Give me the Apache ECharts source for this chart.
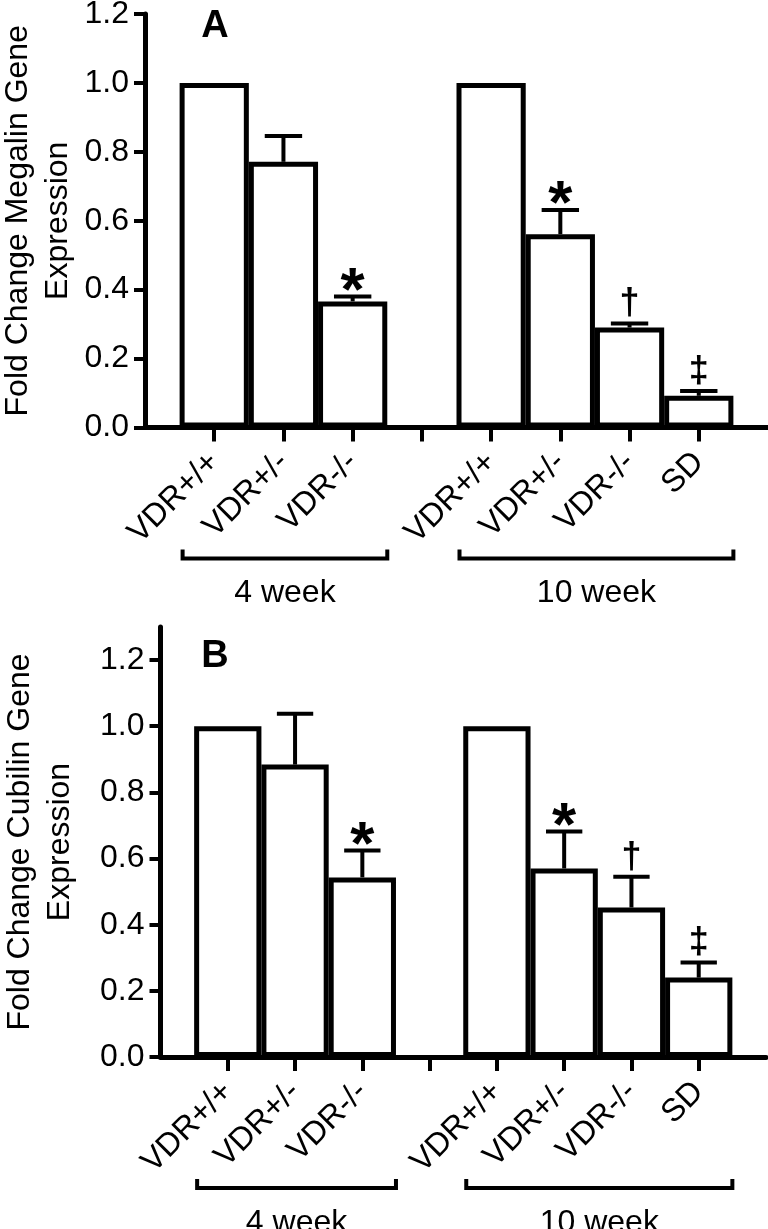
<!DOCTYPE html>
<html>
<head>
<meta charset="utf-8">
<script src="https://cdn.jsdelivr.net/npm/echarts@6.0.0/dist/echarts.min.js"></script>
<style>
  html, body { margin: 0; padding: 0; background: #fff; }
  #chart { width: 768px; height: 1229px; }
</style>
</head>
<body>
<div id="chart"></div>
<script>
// ------------------------------------------------------------
// Data
// ------------------------------------------------------------

// blank slots pad both ends and split the two ages
const categories = ['', 'VDR+/+', 'VDR+/-', 'VDR-/-', '', 'VDR+/+', 'VDR+/-', 'VDR-/-', 'SD', ''];
const yTicks = [0, 0.2, 0.4, 0.6, 0.8, 1.0, 1.2];

// panel A: megalin, mean and top of the error bar
const megalinMean = ['-', 1.0, 0.771, 0.366, '-', 1.0, 0.561, 0.290, 0.092, '-'];
const megalinUpper = ['-', '-', 0.846, 0.380, '-', '-', 0.631, 0.302, 0.106, '-'];

// panel B: cubilin
const cubilinMean = ['-', 1.0, 0.884, 0.543, '-', 1.0, 0.570, 0.452, 0.240, '-'];
const cubilinUpper = ['-', '-', 1.038, 0.624, '-', '-', 0.682, 0.545, 0.286, '-'];

const marks = ['', '', '', '*', '', '', '*', '\u2020', '\u2021', ''];

// age brackets: first and last category index
const groupRanges = [[1, 3], [5, 8]];
const groupLabels = ['4 week', '10 week'];

// ------------------------------------------------------------
// Helpers
// ------------------------------------------------------------

const FONT = 'Liberation Sans';

function errorItems(mean, upper) {
  const items = [];
  upper.forEach((u, i) => {
    if (typeof u === 'number') items.push([i, mean[i], u]);
  });
  return items;
}

function makeErrorRenderer(items) {
  return function (params, api) {
    const item = items[params.dataIndex];
    const base = api.coord([item[0], item[1]]);
    const top = api.coord([item[0], item[2]]);
    const half = api.size([1, 0])[0] * 0.27;
    const mark = marks[item[0]];
    const star = mark === '*';
    return {
      type: 'group',
      children: [
        {
          type: 'line',
          shape: { x1: base[0], y1: base[1], x2: top[0], y2: top[1] },
          style: { stroke: '#000', lineWidth: 4 },
        },
        {
          type: 'line',
          shape: { x1: top[0] - half, y1: top[1], x2: top[0] + half, y2: top[1] },
          style: { stroke: '#000', lineWidth: 4 },
        },
        {
          type: 'text',
          x: top[0],
          y: star ? top[1] - 4 : top[1] - 19,
          style: {
            text: mark,
            fill: '#000',
            font: star ? 'bold 62px ' + FONT : 'bold 36px ' + FONT,
            align: 'center',
            verticalAlign: 'middle',
          },
        },
      ],
    };
  };
}

function renderBracket(params, api) {
  const range = groupRanges[params.dataIndex];
  const band = api.size([1, 0])[0];
  const a = api.coord([range[0], 0]);
  const b = api.coord([range[1], 0]);
  const x0 = a[0] - band / 2 + 3;
  const x1 = b[0] + band / 2;
  const y = a[1] + 131;
  return {
    type: 'group',
    children: [
      {
        type: 'polyline',
        shape: { points: [[x0, y - 9], [x0, y], [x1, y], [x1, y - 9]] },
        style: { stroke: '#000', lineWidth: 4, fill: null },
      },
      {
        type: 'text',
        x: (x0 + x1) / 2,
        y: y + 35,
        style: {
          text: groupLabels[params.dataIndex],
          fill: '#000',
          font: '32px ' + FONT,
          align: 'center',
          verticalAlign: 'middle',
        },
      },
    ],
  };
}

function xAxisFor(gridIndex) {
  return {
    type: 'category',
    gridIndex: gridIndex,
    data: categories,
    boundaryGap: false,
    axisLine: { lineStyle: { color: '#000', width: 5 } },
    axisTick: {
      interval: (index) => index > 0 && index < categories.length - 1,
      length: 14,
      lineStyle: { color: '#000', width: 4 },
    },
    axisLabel: {
      interval: 0,
      rotate: 45,
      margin: 30,
      color: '#000',
      fontSize: 32,
      fontFamily: FONT,
    },
    splitLine: { show: false },
  };
}

function yAxisFor(gridIndex, max, name, nameGap) {
  return {
    type: 'value',
    gridIndex: gridIndex,
    min: 0,
    max: max,
    interval: 0.2,
    name: name,
    nameLocation: 'middle',
    nameRotate: 90,
    nameGap: nameGap,
    nameMoveOverlap: false,
    nameTextStyle: { color: '#000', fontSize: 32, lineHeight: 40, fontFamily: FONT },
    axisLine: { show: true, lineStyle: { color: '#000', width: 5 } },
    axisTick: {
      show: true,
      length: 11,
      customValues: yTicks,
      lineStyle: { color: '#000', width: 4 },
    },
    axisLabel: {
      margin: 16,
      customValues: yTicks,
      color: '#000',
      fontSize: 32,
      fontFamily: FONT,
      formatter: (v) => v.toFixed(1),
    },
    splitLine: { show: false },
  };
}

function seriesFor(index, mean, upper) {
  const items = errorItems(mean, upper);
  return [
    {
      type: 'bar',
      xAxisIndex: index,
      yAxisIndex: index,
      data: mean,
      barCategoryGap: '0%',
      itemStyle: { color: '#fff', borderColor: '#000', borderWidth: 5 },
      z: 2,
    },
    {
      type: 'custom',
      xAxisIndex: index,
      yAxisIndex: index,
      data: items,
      renderItem: makeErrorRenderer(items),
      clip: false,
      z: 3,
    },
    {
      type: 'custom',
      xAxisIndex: index,
      yAxisIndex: index,
      data: groupRanges,
      renderItem: renderBracket,
      clip: false,
      z: 3,
    },
  ];
}

// ------------------------------------------------------------
// Chart
// ------------------------------------------------------------

const chart = echarts.init(document.getElementById('chart'));

chart.setOption({
  animation: false,
  backgroundColor: '#fff',
  grid: [
    { left: 145, right: 0, top: 14, bottom: 801.5, containLabel: false, outerBoundsMode: 'none' },
    { left: 160.5, right: 2, top: 627, bottom: 172, containLabel: false, outerBoundsMode: 'none' },
  ],
  xAxis: [xAxisFor(0), xAxisFor(1)],
  yAxis: [
    yAxisFor(0, 1.2, 'Fold Change Megalin Gene\nExpression', 67),
    yAxisFor(1, 1.3, 'Fold Change Cubilin Gene\nExpression', 80),
  ],
  graphic: [
    {
      type: 'text', x: 215, y: 27,
      style: { text: 'A', font: 'bold 38px ' + FONT, fill: '#000', align: 'center', verticalAlign: 'middle' },
    },
    {
      type: 'text', x: 215, y: 657,
      style: { text: 'B', font: 'bold 38px ' + FONT, fill: '#000', align: 'center', verticalAlign: 'middle' },
    },
  ],
  series: [
    ...seriesFor(0, megalinMean, megalinUpper),
    ...seriesFor(1, cubilinMean, cubilinUpper),
  ],
});
</script>
</body>
</html>
